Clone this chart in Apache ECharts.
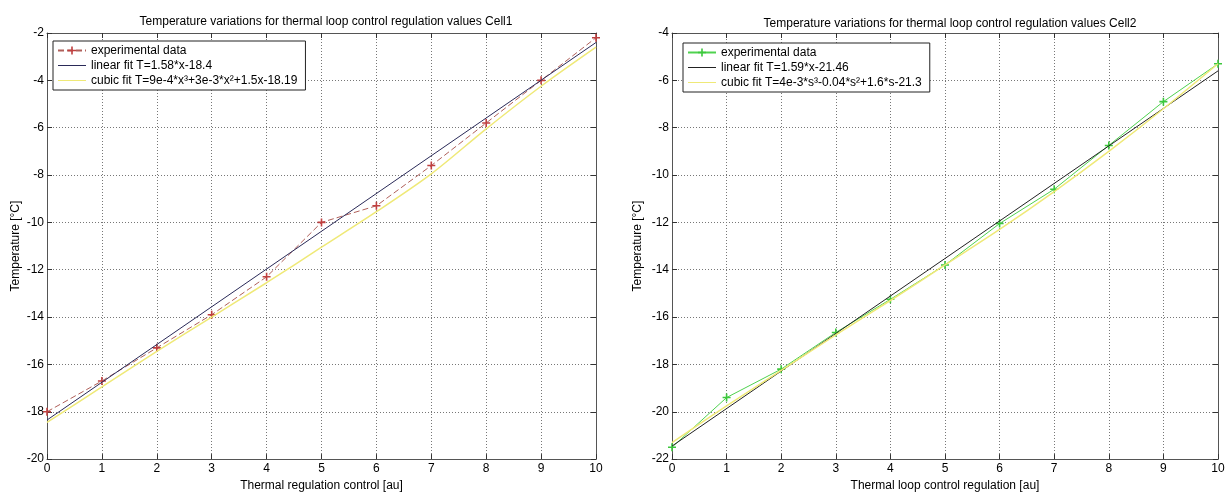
<!DOCTYPE html>
<html>
<head>
<meta charset="utf-8">
<script src="https://cdn.jsdelivr.net/npm/echarts@6/dist/echarts.min.js"></script>
<style>
html,body{margin:0;padding:0;background:#fff;}
#chart{width:1229px;height:497px;}
</style>
</head>
<body>
<div id="chart"></div>
<script>
// ---- data ----
const xValues = [0, 1, 2, 3, 4, 5, 6, 7, 8, 9, 10];
const xTickLabels = ['0','1','2','3','4','5','6','7','8','9','10'];

const cell1Title = 'Temperature variations for thermal loop control regulation values Cell1';
const cell1XName = 'Thermal regulation control [au]';
const cell1Experimental = [-18.0, -16.7, -15.3, -13.9, -12.3, -10.0, -9.3, -7.6, -5.8, -4.0, -2.2];
const cell1LinearX = [0, 10];
const cell1Linear = [-18.35, -2.4];
const cell1Cubic = [-18.45, -16.95, -15.45, -14.0, -12.55, -11.05, -9.55, -7.95, -6.05, -4.25, -2.6];
const cell1Names = ['experimental data', 'linear fit T=1.58*x-18.4', 'cubic fit T=9e-4*x\u00B3+3e-3*x\u00B2+1.5x-18.19'];

const cell2Title = 'Temperature variations for thermal loop control regulation values Cell2';
const cell2XName = 'Thermal loop control regulation [au]';
const cell2Experimental = [-21.5, -19.4, -18.2, -16.65, -15.25, -13.8, -12.05, -10.6, -8.75, -6.9, -5.3];
const cell2LinearX = [0, 10];
const cell2Linear = [-21.45, -5.6];
const cell2Cubic = [-21.3, -19.75, -18.25, -16.75, -15.3, -13.8, -12.3, -10.7, -9.0, -7.2, -5.3];
const cell2Names = ['experimental data ', 'linear fit T=1.59*x-21.46', 'cubic fit T=4e-3*s\u00B3-0.04*s\u00B2+1.6*s-21.3'];

const yName = 'Temperature [\u00B0C]';

// ---- chart ----
const FONT = 'Liberation Sans, Arial, sans-serif';
const zip = (xs, ys) => xs.map((x, i) => [x, ys[i]]);
const plusPath = 'path://M4,0h2v4h4v2h-4v4h-2v-4h-4v-2h4z';
// thin horizontal line icon inside a 28x10 box (corner dots keep the box size)
const lineIcon = 'path://M0,0h0.01v0.01h-0.01z M0,4.5h28v1h-28z M27.99,9.99h0.01v0.01h-0.01z';

const grids = [
  {left: 47, top: 33, width: 549, height: 432},
  {left: 672, top: 33, width: 546, height: 432}
];

function mkX(gi, name, pos) {
  const main = pos === 'bottom';
  return {
    type: 'value', gridIndex: gi, position: pos, min: 0, max: 10, interval: 1,
    name: main ? name : '', nameLocation: 'middle', nameGap: 18,
    nameTextStyle: {fontFamily: FONT, fontSize: 12, color: '#000'},
    axisLine: {show: true, onZero: false, lineStyle: {color: '#555', width: 1}},
    axisTick: {show: true, inside: true, length: 5, lineStyle: {color: '#333'}},
    axisLabel: {show: main, margin: 4, fontFamily: FONT, fontSize: 12, color: '#000',
      formatter: v => xTickLabels[xValues.indexOf(v)] ?? String(v)},
    splitLine: {show: main, lineStyle: {color: '#777', type: [1, 2], width: 1}}
  };
}
function mkY(gi, min, max, pos, gap) {
  const main = pos === 'left';
  return {
    type: 'value', gridIndex: gi, position: pos, min: min, max: max, interval: 2,
    name: main ? yName : '', nameLocation: 'middle', nameGap: gap, nameRotate: 90,
    nameTextStyle: {fontFamily: FONT, fontSize: 12, color: '#000'},
    axisLine: {show: true, onZero: false, lineStyle: {color: '#555', width: 1}},
    axisTick: {show: true, inside: true, length: 5, lineStyle: {color: '#333'}},
    axisLabel: {show: main, margin: 3, fontFamily: FONT, fontSize: 12, color: '#000'},
    splitLine: {show: main, lineStyle: {color: '#777', type: [1, 2], width: 1}}
  };
}

function mkLegend(left, top, names) {
  return {
    left: left, top: top, orient: 'vertical',
    data: [
      {name: names[0]},
      {name: names[1], icon: lineIcon},
      {name: names[2], icon: lineIcon}
    ],
    backgroundColor: '#fff', borderColor: '#222', borderWidth: 1,
    padding: [3, 8, 3, 4], itemGap: 2, itemWidth: 28, itemHeight: 10,
    selectedMode: false,
    textStyle: {fontFamily: FONT, fontSize: 12, color: '#000', lineHeight: 13}
  };
}

const colors = {
  exp1: '#b0605a', lin1: '#2a2a58', cub: '#efe977', exp2: '#4fd24f', lin2: '#222222'
};

const series = [
  {name: cell1Names[0], type: 'line', xAxisIndex: 0, yAxisIndex: 0, data: zip(xValues, cell1Experimental),
   symbol: plusPath, symbolSize: 8, showSymbol: true,
   lineStyle: {color: colors.exp1, width: 1, type: [6, 3]}, itemStyle: {color: '#c04040'}, z: 3},
  {name: cell1Names[1], type: 'line', xAxisIndex: 0, yAxisIndex: 0, data: zip(cell1LinearX, cell1Linear),
   symbol: 'none', lineStyle: {color: colors.lin1, width: 1}, itemStyle: {color: colors.lin1}, z: 4},
  {name: cell1Names[2], type: 'line', xAxisIndex: 0, yAxisIndex: 0, data: zip(xValues, cell1Cubic),
   symbol: 'none', smooth: 0.3, lineStyle: {color: colors.cub, width: 1.5}, itemStyle: {color: colors.cub}, z: 5},
  {name: cell2Names[0], type: 'line', xAxisIndex: 2, yAxisIndex: 2, data: zip(xValues, cell2Experimental),
   symbol: plusPath, symbolSize: 8, showSymbol: true,
   lineStyle: {color: colors.exp2, width: 1}, itemStyle: {color: '#3cc83c'}, z: 3},
  {name: cell2Names[1], type: 'line', xAxisIndex: 2, yAxisIndex: 2, data: zip(cell2LinearX, cell2Linear),
   symbol: 'none', lineStyle: {color: colors.lin2, width: 1}, itemStyle: {color: colors.lin2}, z: 4},
  {name: cell2Names[2], type: 'line', xAxisIndex: 2, yAxisIndex: 2, data: zip(xValues, cell2Cubic),
   symbol: 'none', smooth: 0.3, lineStyle: {color: colors.cub, width: 1.5}, itemStyle: {color: colors.cub}, z: 5}
];

const chart = echarts.init(document.getElementById('chart'), null, {renderer: 'canvas'});
chart.setOption({
  animation: false,
  backgroundColor: '#fff',
  title: [
    {text: cell1Title, left: 321, top: 11, textAlign: 'center',
     textStyle: {fontFamily: FONT, fontSize: 12, fontWeight: 'normal', color: '#000'}},
    {text: cell2Title, left: 945, top: 13, textAlign: 'center',
     textStyle: {fontFamily: FONT, fontSize: 12, fontWeight: 'normal', color: '#000'}}
  ],
  grid: grids,
  xAxis: [mkX(0, cell1XName, 'bottom'), mkX(0, '', 'top'), mkX(1, cell2XName, 'bottom'), mkX(1, '', 'top')],
  yAxis: [mkY(0, -20, -2, 'left', 25), mkY(0, -20, -2, 'right', 0), mkY(1, -22, -4, 'left', 28), mkY(1, -22, -4, 'right', 0)],
  legend: [mkLegend(53, 41, cell1Names), mkLegend(683, 43, cell2Names)],
  series: series
});
</script>
</body>
</html>
